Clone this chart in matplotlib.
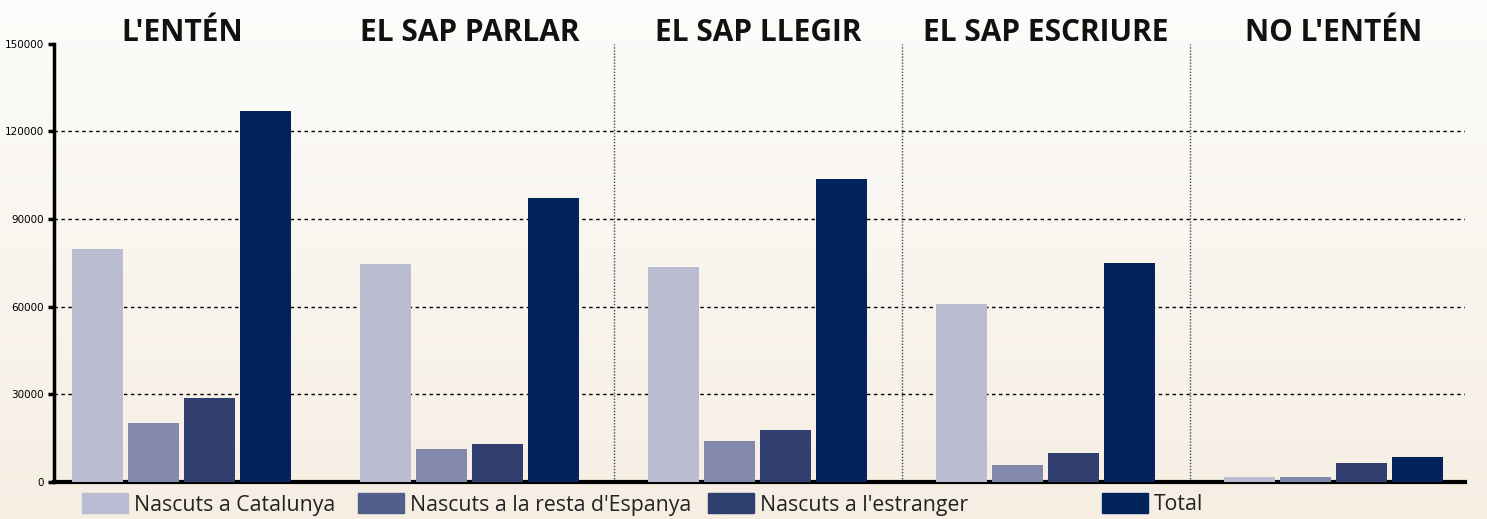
import numpy as np
import matplotlib
matplotlib.use("Agg")
import matplotlib.pyplot as plt
from matplotlib.patches import Rectangle

# dades
categories = ["L'ENTÉN", "EL SAP PARLAR", "EL SAP LLEGIR", "EL SAP ESCRIURE", "NO L'ENTÉN"]
series = ["Nascuts a Catalunya", "Nascuts a la resta d'Espanya", "Nascuts a l'estranger", "Total"]
catalunya = [79600, 74500, 73500, 60800, 1700]
resta_espanya = [20100, 11200, 14000, 5800, 1600]
estranger = [28700, 12900, 17700, 9900, 6400]
total = [126800, 97000, 103500, 74800, 8500]
yticks = [0, 30000, 60000, 90000, 120000, 150000]

bar_colors = ["#babdd2", "#8389aa", "#303f70", "#00245b"]
legend_colors = ["#b9bcd2", "#525f8a", "#2e3f6f", "#00235b"]

W, H = 1487, 519
fig = plt.figure(figsize=(W / 100, H / 100), dpi=100)

# fons en degradat
bg = fig.add_axes([0, 0, 1, 1], zorder=-10)
grad = np.linspace(0, 1, 256).reshape(-1, 1)
top = np.array([252, 252, 250]) / 255
bot = np.array([246, 238, 227]) / 255
img = top + (bot - top) * grad[..., None]
bg.imshow(img, aspect="auto", extent=[0, 1, 0, 1])
bg.axis("off")

ax = fig.add_axes([54 / W, 37 / H, (1465 - 54) / W, 438.5 / H])
ax.set_facecolor("none")

x = np.arange(len(categories))
step = 56 / 288
width = 51 / 288
for k, vals in enumerate([catalunya, resta_espanya, estranger, total]):
    ax.bar(x + (k - 1.5) * step, vals, width=width, color=bar_colors[k], zorder=3)

ax.set_xlim(-0.444, 4.455)
ax.set_ylim(0, 150000)
ax.set_yticks(yticks)
ax.set_yticklabels([str(v) for v in yticks], fontsize=7.5, family="DejaVu Sans")
ax.set_xticks([])
ax.tick_params(axis="y", length=4, width=2.5, pad=3, colors="black")

for y in yticks[1:-1]:
    ax.axhline(y, color="black", lw=1, ls=(0, (2.5, 2.5)), zorder=1)
for xd in x[1:-1] + 0.5:
    ax.axvline(xd, color="#444444", lw=1, ls=(0, (1, 1.2)), zorder=1)

for s in ["top", "right"]:
    ax.spines[s].set_visible(False)
ax.spines["left"].set_linewidth(2.5)
ax.spines["bottom"].set_linewidth(3)

for i, c in enumerate(categories):
    ax.text(i, 1.024, c, transform=ax.get_xaxis_transform(), ha="center", va="center",
            fontsize=21.5, fontweight="bold", family="Open Sans", color="#111111")

# llegenda
leg_x = [82, 358, 708, 1102]
for k, name in enumerate(series):
    fig.patches.append(Rectangle((leg_x[k] / W, 6 / H), 46 / W, 20 / H,
                                 transform=fig.transFigure, color=legend_colors[k]))
    fig.text((leg_x[k] + 52) / W, 14 / H, name, ha="left", va="center",
             fontsize=15.3, family="Open Sans", color="#222222")

fig.savefig("out.png", dpi=100)
